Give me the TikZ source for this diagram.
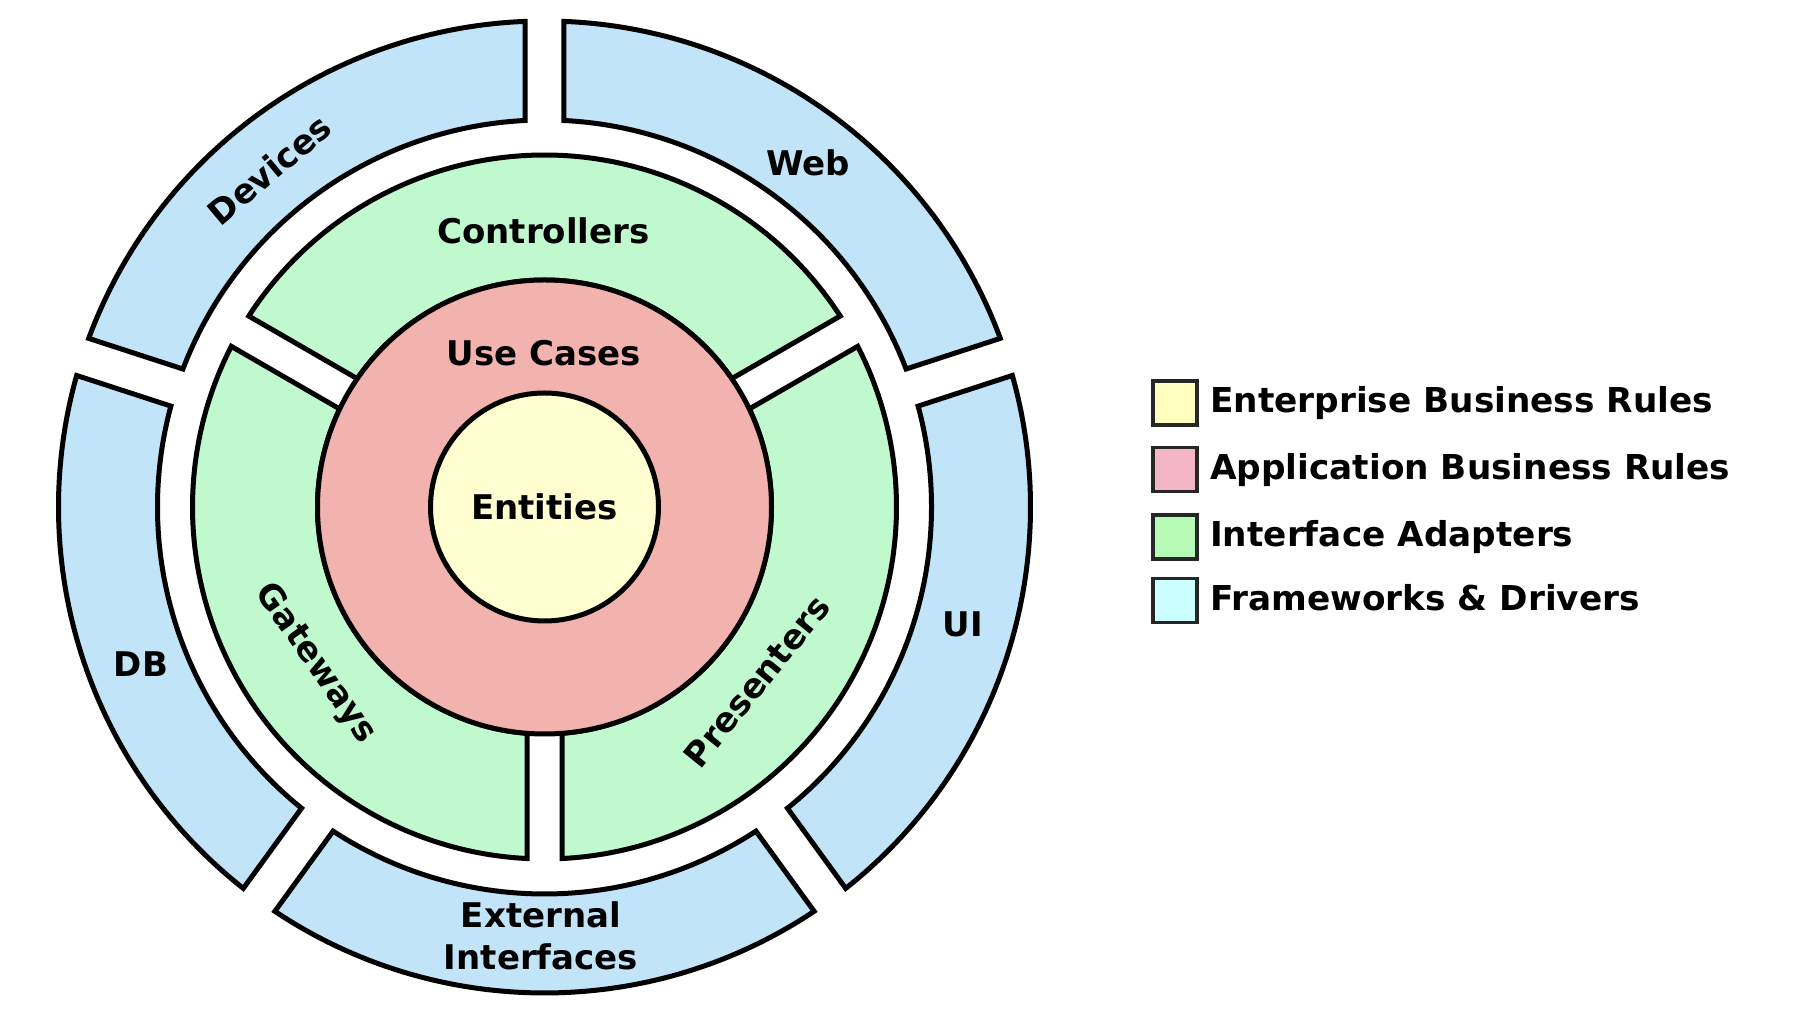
\documentclass[tikz,border=0pt]{standalone}
\usepackage{fontspec}
\setmainfont{DejaVu Sans}
\definecolor{ringblue}{HTML}{C2E4F8}
\definecolor{ringgreen}{HTML}{C1F9CF}
\definecolor{ringred}{HTML}{F2B2AE}
\definecolor{coreyellow}{HTML}{FEFED0}
\definecolor{lgyellow}{HTML}{FFFFC0}
\definecolor{lgpink}{HTML}{F4B6C6}
\definecolor{lggreen}{HTML}{B4F9B4}
\definecolor{lgcyan}{HTML}{CCFFFF}
\newcommand\ringsegment[6]{%
  \pgfmathsetmacro\sdo{asin(#5/#4)}%
  \pgfmathsetmacro\sdi{asin(#5/#3)}%
  \filldraw[segline,fill=#6] ([shift={({#1+\sdo}:#4pt)}]C)
    arc[start angle={#1+\sdo}, end angle={#2-\sdo}, radius=#4pt]
    -- ([shift={({#2-\sdi}:#3pt)}]C)
    arc[start angle={#2-\sdi}, end angle={#1+\sdi}, radius=#3pt] -- cycle;
}
\tikzset{
  segline/.style={draw=black, line width=5pt, line join=miter},
  lbl/.style={font=\fontsize{34}{40}\selectfont\bfseries, text=black,
    inner sep=0pt, text height=0.729em, text depth=0pt, anchor=center},
  lgbox/.style={draw=black!85, line width=3.5pt, minimum size=44pt, inner sep=0pt},
  lgtext/.style={font=\fontsize{34.3}{40}\selectfont\bfseries, text=black,
    inner sep=0pt, anchor=base west},
}
\begin{document}
\begin{tikzpicture}[x=1pt,y=1pt]
\useasboundingbox[fill=white] (0,0) rectangle (1794,1024);
\coordinate (C) at (544.5,517);
% outer ring: frameworks & drivers
\ringsegment{18}{90}{387}{486}{19.5}{ringblue}
\ringsegment{90}{162}{387}{486}{19.5}{ringblue}
\ringsegment{162}{234}{387}{486}{19.5}{ringblue}
\ringsegment{234}{306}{387}{486}{19.5}{ringblue}
\ringsegment{306}{378}{387}{486}{19.5}{ringblue}
% interface adapters
\ringsegment{30}{150}{227}{352}{17.5}{ringgreen}
\ringsegment{150}{270}{227}{352}{17.5}{ringgreen}
\ringsegment{270}{390}{227}{352}{17.5}{ringgreen}
% use cases and entities
\node[circle, draw=black, line width=5pt, fill=ringred, minimum size=454pt, inner sep=0pt] (usecases) at (C) {};
\node[circle, draw=black, line width=5pt, fill=coreyellow, minimum size=228pt, inner sep=0pt] (entities) at (C) {};
\node[lbl] (entitieslbl) at (544.5,508) {Entities};
\node[lbl] (usecaseslbl) at (543.5,662.5) {Use Cases};
\node[lbl] (controllers) at (543.5,784) {Controllers};
\node[lbl, rotate=-55] (gateways) at (311.2,357) {Gateways};
\node[lbl, rotate=51] (presenters) at (763.4,337.3) {Presenters};
\node[lbl, rotate=40] (devices) at (275,847.5) {Devices};
\node[lbl] (web) at (808,852.5) {Web};
\node[lbl] (ui) at (963,391.5) {UI};
\node[lbl] (db) at (141,351.5) {DB};
\node[lbl] (external) at (541,99.7) {External};
\node[lbl] (interfaces) at (541,58.5) {Interfaces};
% legend
\node[lgbox, fill=lgyellow] (lg1) at (1175,621) {};
\node[lgbox, fill=lgpink] (lg2) at (1175,554.5) {};
\node[lgbox, fill=lggreen] (lg3) at (1175,487) {};
\node[lgbox, fill=lgcyan] (lg4) at (1175,423.5) {};
\node[lgtext] (lt1) at (1210,611) {Enterprise Business Rules};
\node[lgtext] (lt2) at (1210,544.5) {Application Business Rules};
\node[lgtext] (lt3) at (1210,477) {Interface Adapters};
\node[lgtext] (lt4) at (1210,413.5) {Frameworks \& Drivers};
\end{tikzpicture}
\end{document}
